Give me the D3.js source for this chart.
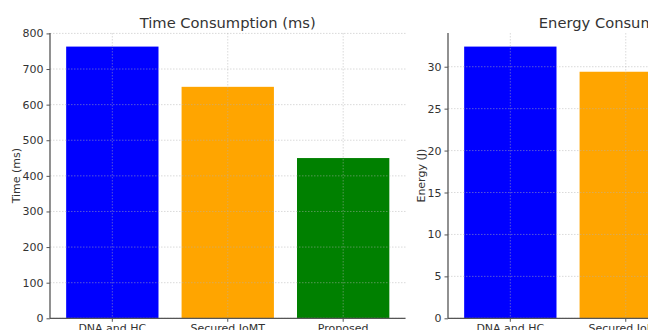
<!DOCTYPE html>
<html>
<head>
<meta charset="utf-8">
<script src="https://cdn.jsdelivr.net/npm/d3@7"></script>
<style>
  body { margin: 0; background: #fff; }
  svg { display: block; font-family: "DejaVu Sans", sans-serif; }
</style>
</head>
<body>
<script>
const methods = ["DNA and HC", "Secured IoMT", "Proposed"];
const timeValues = [763, 650, 450];
const energyValues = [32.4, 29.4, 21.5];
const timeTicks = [0, 100, 200, 300, 400, 500, 600, 700, 800];
const energyTicks = [0, 5, 10, 15, 20, 25, 30];
const barColors = ["#0000ff", "#ffa500", "#008000"];

const width = 648;
const height = 330;

const svg = d3
  .select("body")
  .append("svg")
  .attr("width", width)
  .attr("height", height);

const plotTop = 33;
const plotBottom = 318.3;

function drawPanel(left, right, values, ticks, title, ylabel, labelX) {
  const g = svg.append("g");

  const xScale = d3
    .scaleBand()
    .domain(methods)
    .range([left, right])
    .paddingInner(0.2)
    .paddingOuter(0.14);

  const yScale = d3
    .scaleLinear()
    .domain([0, d3.max(values) * 1.05])
    .range([plotBottom, plotTop]);

  // bars
  g.selectAll("rect")
    .data(values)
    .enter()
    .append("rect")
    .attr("x", (d, i) => xScale(methods[i]))
    .attr("y", (d) => yScale(d))
    .attr("width", xScale.bandwidth())
    .attr("height", (d) => plotBottom - yScale(d))
    .attr("fill", (d, i) => barColors[i]);

  // grid on top of bars
  const grid = g.append("g")
    .attr("stroke", "#b0b0b0")
    .attr("stroke-opacity", 0.6)
    .attr("stroke-width", 0.8)
    .attr("stroke-dasharray", "1.5,1.5");

  grid.selectAll(".hgrid")
    .data(ticks)
    .enter()
    .append("line")
    .attr("x1", left)
    .attr("x2", right)
    .attr("y1", (d) => yScale(d))
    .attr("y2", (d) => yScale(d));

  grid.selectAll(".vgrid")
    .data(methods)
    .enter()
    .append("line")
    .attr("x1", (d) => xScale(d) + xScale.bandwidth() / 2)
    .attr("x2", (d) => xScale(d) + xScale.bandwidth() / 2)
    .attr("y1", plotTop)
    .attr("y2", plotBottom);

  // axes
  const yAxis = d3.axisLeft(yScale).tickValues(ticks).tickSize(3.5).tickPadding(3);
  const yg = g.append("g")
    .attr("transform", `translate(${left}, 0)`)
    .call(yAxis);
  yg.select(".domain").remove();

  const xAxis = d3.axisBottom(xScale).tickSize(3.5).tickPadding(2);
  const xg = g.append("g")
    .attr("transform", `translate(0, ${plotBottom})`)
    .call(xAxis);
  xg.select(".domain").remove();

  g.selectAll(".tick line").attr("stroke", "#555");
  g.selectAll(".tick text")
    .attr("fill", "#333")
    .style("font-size", "11px")
    .style("font-family", "DejaVu Sans");

  // spines: left and bottom only
  g.append("line")
    .attr("x1", left).attr("x2", left)
    .attr("y1", plotTop).attr("y2", plotBottom)
    .attr("stroke", "#555").attr("stroke-width", 1.3);
  g.append("line")
    .attr("x1", left).attr("x2", right)
    .attr("y1", plotBottom).attr("y2", plotBottom)
    .attr("stroke", "#555").attr("stroke-width", 1.3);

  // title
  g.append("text")
    .attr("x", (left + right) / 2)
    .attr("y", 27.5)
    .attr("text-anchor", "middle")
    .attr("fill", "#333")
    .style("font-size", "14.7px")
    .text(title);

  // y label
  g.append("text")
    .attr("transform", `translate(${labelX}, ${(plotTop + plotBottom) / 2}) rotate(-90)`)
    .attr("text-anchor", "middle")
    .attr("fill", "#333")
    .style("font-size", "11px")
    .text(ylabel);
}

drawPanel(50, 405.5, timeValues, timeTicks, "Time Consumption (ms)", "Time (ms)", 19.5);
drawPanel(448, 803.5, energyValues, energyTicks, "Energy Consumption (J)", "Energy (J)", 424.5);
</script>
</body>
</html>
